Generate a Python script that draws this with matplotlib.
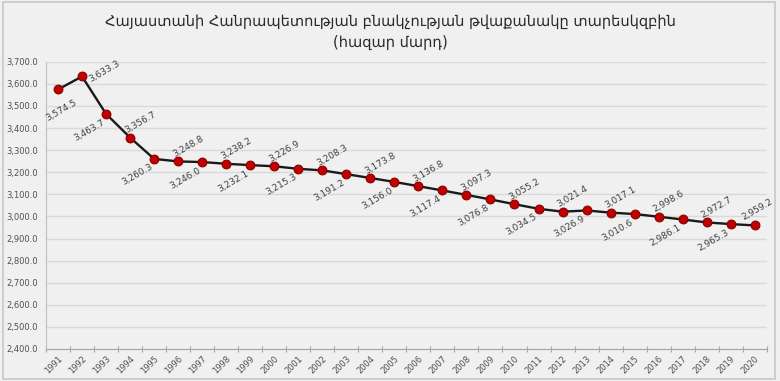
import matplotlib
matplotlib.use("Agg")
import matplotlib.pyplot as plt
from matplotlib.patches import Rectangle

years = [str(y) for y in range(1991, 2021)]
population = [3574.5, 3633.3, 3463.7, 3356.7, 3260.3, 3248.8, 3246.0, 3238.2,
              3232.1, 3226.9, 3215.3, 3208.3, 3191.2, 3173.8, 3156.0, 3136.8,
              3117.4, 3097.3, 3076.8, 3055.2, 3034.5, 3021.4, 3026.9, 3017.1,
              3010.6, 2998.6, 2986.1, 2972.7, 2965.3, 2959.2]
y_ticks = list(range(2400, 3701, 100))
title = "Հայաստանի Հանրապետության բնակչության թվաքանակը տարեսկզբին\n(հազար մարդ)"

plt.rcParams['font.family'] = ['DejaVu Sans']

bg = "#f0f0f0"
fig = plt.figure(figsize=(7.8, 3.81), dpi=100, facecolor=bg)
fig.patches.append(Rectangle((0.004, 0.006), 0.99, 0.99, transform=fig.transFigure,
                             fill=False, edgecolor="#c8c8c8", linewidth=1.2))
ax = fig.add_axes([0.059, 0.084, 0.924, 0.754])
ax.set_facecolor(bg)

x = list(range(len(years)))
ax.plot(x, population, color="#1a1a1a", linewidth=1.7, zorder=3)
ax.scatter(x, population, s=40, color="#c00000", edgecolor="#8b0000", linewidth=0.8, zorder=4)

for i, v in enumerate(population):
    label = f"{v:,.1f}"
    if i % 2 == 1:
        off = (10, 15)
    else:
        off = (-17, -16)
    if i == 0:
        off = (3, -21)
    if i == 1:
        off = (22, 5)
    if i == len(population) - 1:
        off = (3, 16)
    ax.annotate(label, (i, v), xytext=off, textcoords="offset pixels",
                ha="center", va="center", rotation=30, fontsize=6.5,
                color="#404040")

ax.set_xlim(-0.5, len(years) - 0.5)
ax.set_ylim(2400, 3700)
ax.set_yticks(y_ticks)
ax.set_yticklabels([f"{t:,.1f}" for t in y_ticks], fontsize=6, color="#505050")
ax.tick_params(axis="y", length=0, pad=6)
ax.grid(axis="y", color="#d9d9d9", linewidth=1.0)
ax.set_axisbelow(True)

ax.set_xticks([i - 0.5 for i in range(len(years) + 1)], minor=False)
ax.set_xticklabels([])
ax.set_xticks(x, minor=True)
ax.set_xticklabels(years, minor=True, rotation=45, ha="right", va="top",
                   rotation_mode="anchor", fontsize=6, color="#505050")
ax.tick_params(axis="x", which="major", direction="inout", length=5, color="#a6a6a6")
ax.tick_params(axis="x", which="minor", length=0, pad=4)

for s in ["top", "right"]:
    ax.spines[s].set_visible(False)
ax.spines["left"].set_color("#bfbfbf")
ax.spines["bottom"].set_color("#a6a6a6")

fig.text(0.5, 0.915, title, ha="center", va="center", fontsize=10.5,
         color="#2a2a2a", linespacing=1.5)

fig.savefig("out.png", dpi=100, facecolor=bg)
